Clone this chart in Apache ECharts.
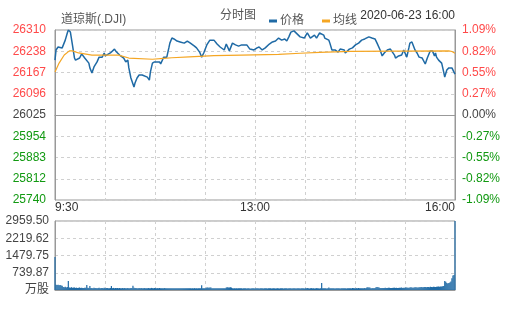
<!DOCTYPE html>
<html>
<head>
<meta charset="utf-8">
<script src="https://cdn.jsdelivr.net/npm/echarts@6/dist/echarts.min.js"></script>
<style>
html,body{margin:0;padding:0;background:#fff;}
#chart{width:505px;height:310px;}
</style>
</head>
<body>
<div id="chart"></div>
<script>
// ---- data ----
var prevClose = 26025;
var priceLabels = ['25740','25812','25883','25954','26025','26096','26167','26238','26310']; // bottom -> top
var pctLabels = ['-1.09%','-0.82%','-0.55%','-0.27%','0.00%','0.27%','0.55%','0.82%','1.09%'];
var volLabels = ['万股','739.87','1479.75','2219.62','2959.50'];
var timeTicks = [0, 195, 390];
var timeLabels = ['9:30', '13:00', '16:00'];

var priceMinutes = [0,1,3,7,10,12,13,15,17,19,20,24,26,29,33,34,36,38,39,41,43,46,48,49,54,58,60,63,67,69,71,72,74,77,78,80,82,85,90,92,93,95,97,99,102,103,106,109,111,112,114,116,119,122,126,129,132,136,138,141,143,145,148,151,155,158,161,165,167,170,173,176,179,182,187,190,194,197,199,202,205,209,212,215,218,221,224,226,228,230,233,236,239,243,246,249,253,255,258,262,263,267,268,270,273,276,278,282,283,287,290,293,296,299,302,306,309,312,314,317,319,321,324,327,329,331,332,335,338,340,343,345,346,348,351,353,355,358,361,363,365,366,368,370,371,372,374,377,379,380,382,384,387,389,390];
var priceValues = [26209,26243,26253,26250,26276,26300,26310,26303,26260,26216,26209,26216,26230,26216,26199,26183,26166,26186,26186,26203,26219,26219,26233,26223,26233,26246,26236,26226,26216,26203,26209,26183,26149,26119,26132,26149,26159,26159,26152,26142,26169,26199,26203,26203,26203,26196,26219,26219,26250,26266,26283,26280,26273,26270,26266,26273,26266,26256,26250,26236,26219,26233,26260,26276,26276,26263,26253,26243,26263,26240,26266,26260,26256,26260,26260,26246,26243,26250,26253,26243,26250,26263,26270,26273,26283,26276,26280,26273,26287,26303,26307,26297,26287,26283,26300,26283,26293,26283,26300,26293,26283,26276,26266,26243,26243,26236,26246,26243,26233,26246,26250,26260,26266,26276,26280,26287,26283,26280,26266,26243,26223,26233,26243,26246,26236,26226,26216,26223,26226,26243,26219,26250,26266,26270,26243,26233,26219,26216,26196,26216,26233,26240,26240,26223,26233,26219,26209,26199,26169,26152,26176,26183,26183,26169,26162];

var avgMinutes = [0,4,9,14,17,23,36,62,72,95,106,114,131,155,182,218,239,258,288,384,387,390];
var avgValues = [26169,26199,26226,26240,26240,26233,26226,26226,26216,26212,26215,26217,26220,26224,26226,26228,26232,26235,26238,26240,26238,26232];

var volume = [
1420,230,210,220,200,215,190,180,130,120,140,110,125,390,110,100,120,95,105,110,
90,100,85,95,110,90,100,85,90,95,100,215,95,90,170,85,90,80,95,85,
90,80,85,100,75,90,85,80,95,80,85,90,75,80,85,170,80,90,75,85,
80,85,75,90,80,75,85,80,90,75,80,85,75,80,90,85,180,95,90,85,
80,75,85,80,90,75,80,85,75,80,75,85,80,75,90,80,75,85,80,75,
80,75,85,70,80,75,70,85,75,80,70,75,80,70,75,80,75,70,80,75,
70,75,80,70,75,70,80,75,70,75,80,70,75,70,75,70,80,70,75,70,
75,70,75,200,70,75,70,80,105,110,100,105,110,75,70,75,70,75,70,75,
70,75,70,75,70,75,70,110,115,105,110,115,105,75,70,75,70,75,70,75,
70,75,72,65,70,78,70,66,72,75,68,65,70,76,70,66,72,75,70,65,
72,75,70,66,70,78,70,65,72,74,70,66,70,75,72,65,70,77,70,66,
70,74,72,65,70,75,70,67,72,75,70,65,70,76,70,66,72,75,70,65,
75,70,80,65,70,75,85,70,65,75,80,70,75,65,70,80,75,70,65,75,
300,70,75,80,70,65,75,110,70,75,80,70,75,65,70,75,80,70,65,75,
70,80,75,70,65,75,80,70,75,70,85,80,75,70,80,75,85,70,75,80,
75,80,85,75,110,115,110,105,80,75,85,80,90,120,125,115,110,90,85,90,
85,90,95,85,90,100,95,90,85,90,95,100,90,95,85,90,95,100,105,90,
95,100,105,110,100,95,110,115,105,100,110,120,115,105,110,115,120,125,115,120,
125,130,120,125,130,120,135,130,125,140,135,130,140,145,150,140,155,150,160,170,
390,350,300,280,300,320,360,500,620,640,2959.5
];

// ---- build ----
var priceData = priceMinutes.map(function (m, i) { return [m, priceValues[i] - prevClose]; });
var avgData = avgMinutes.map(function (m, i) { return [m, avgValues[i] - prevClose]; });
var volData = volume.map(function (v, i) { return [i, v]; });

var FONT = 'Arial, "Liberation Sans", "Noto Sans CJK SC", sans-serif';
var BLUE = '#1f6aa5';
var ORANGE = '#f5a623';
var RED = '#ff4a4a';
var GREEN = '#119911';
var GRAYTXT = '#444';

var span = 285, step = 71.25;
function yIndex(v) { return Math.round((v + span) / step); }
function signColor(v) { return v > 0.01 ? RED : (v < -0.01 ? GREEN : GRAYTXT); }

var chart = echarts.init(document.getElementById('chart'), null, { renderer: 'canvas' });
chart.setOption({
  animation: false,
  backgroundColor: '#fff',
  textStyle: { fontFamily: FONT },
  title: {
    text: '道琼斯(.DJI)', left: 56, top: 9,
    textStyle: { fontSize: 12, fontWeight: 'normal', color: '#555', fontFamily: FONT }
  },
  legend: {
    left: 264, top: 10, icon: 'rect', itemWidth: 8, itemHeight: 3, itemGap: 18,
    textStyle: { fontSize: 12, color: '#555', fontFamily: FONT, padding: [0, 0, 0, -2] },
    data: ['价格', '均线']
  },
  graphic: [
    { type: 'text', left: 220, top: 10, style: { text: '分时图', fontSize: 12, fill: '#555', fontFamily: FONT } },
    { type: 'text', right: 50, top: 10, style: { text: '2020-06-23 16:00', fontSize: 12, fill: '#333', fontFamily: FONT } }
  ],
  grid: [
    { left: 55, top: 30, width: 400, height: 170, show: true, borderColor: '#999', borderWidth: 1 },
    { left: 55, top: 221, width: 400, height: 69, show: true, borderColor: '#999', borderWidth: 1 }
  ],
  xAxis: [
    {
      type: 'value', gridIndex: 0, min: 0, max: 390, interval: 48.75,
      axisLine: { show: true, lineStyle: { color: '#999' } },
      axisTick: { show: false },
      splitLine: { show: true, lineStyle: { color: '#d0d0d0', type: [3, 3] } },
      axisLabel: {
        show: true, margin: 2, fontSize: 12, color: '#333', fontFamily: FONT,
        showMinLabel: true, showMaxLabel: true,
        alignMinLabel: 'left', alignMaxLabel: 'right',
        formatter: function (v) {
          for (var i = 0; i < timeTicks.length; i++) {
            if (Math.abs(timeTicks[i] - v) < 0.01) return timeLabels[i];
          }
          return '';
        }
      }
    },
    {
      type: 'value', gridIndex: 1, min: 0, max: 390, interval: 48.75,
      axisLine: { show: true, lineStyle: { color: '#999' } },
      axisTick: { show: false },
      axisLabel: { show: false },
      splitLine: { show: true, lineStyle: { color: '#d0d0d0', type: [3, 3] } }
    }
  ],
  yAxis: [
    {
      type: 'value', gridIndex: 0, position: 'left', min: -span, max: span, interval: step,
      axisLine: { show: true, lineStyle: { color: '#999' } },
      axisTick: { show: false },
      splitLine: { show: true, lineStyle: { color: '#d0d0d0', type: [3, 3] } },
      axisLabel: {
        margin: 9, fontSize: 12, fontFamily: FONT,
        formatter: function (v) { return priceLabels[yIndex(v)]; },
        color: function (v) { return signColor(Number(v)); }
      }
    },
    {
      type: 'value', gridIndex: 0, position: 'right', min: -span, max: span, interval: step,
      axisLine: { show: true, lineStyle: { color: '#999' } },
      axisTick: { show: false },
      splitLine: { show: false },
      axisLabel: {
        margin: 7, fontSize: 12, fontFamily: FONT,
        formatter: function (v) { return pctLabels[yIndex(v)]; },
        color: function (v) { return signColor(Number(v)); }
      }
    },
    {
      type: 'value', gridIndex: 1, min: 0, max: 2959.5, interval: 739.875,
      axisLine: { show: true, lineStyle: { color: '#999' } },
      axisTick: { show: false },
      splitLine: { show: true, lineStyle: { color: '#d0d0d0', type: [3, 3] } },
      axisLabel: {
        margin: 6, fontSize: 12, color: '#444', fontFamily: FONT,
        formatter: function (v) { return volLabels[Math.round(v / 739.875)]; }
      }
    }
  ],
  series: [
    {
      name: '价格', type: 'line', xAxisIndex: 0, yAxisIndex: 0, data: priceData,
      showSymbol: false, symbol: 'none', color: BLUE,
      lineStyle: { color: BLUE, width: 1.5 }
    },
    {
      name: '均线', type: 'line', xAxisIndex: 0, yAxisIndex: 0, data: avgData,
      showSymbol: false, symbol: 'none', color: ORANGE,
      lineStyle: { color: ORANGE, width: 1.2 }
    },
    {
      name: '成交量', type: 'bar', xAxisIndex: 1, yAxisIndex: 2, data: volData,
      barWidth: 1.2, itemStyle: { color: BLUE }, large: false
    }
  ]
});
</script>
</body>
</html>
